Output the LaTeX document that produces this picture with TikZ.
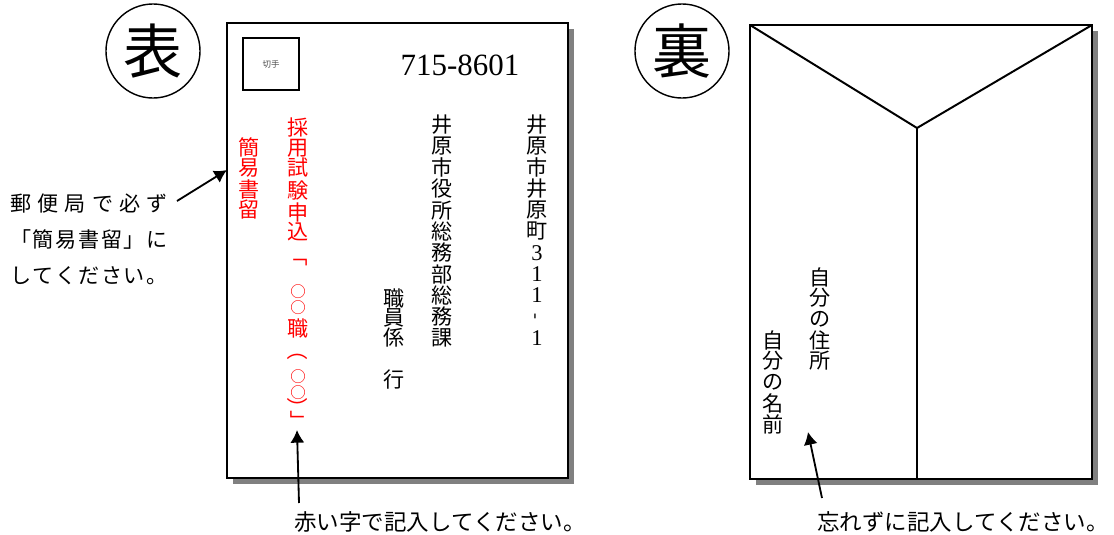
\documentclass[tikz,border=0pt]{standalone}
\usepackage{fontspec}
\setmainfont{Liberation Serif}
\newfontfamily\jp{Noto Sans CJK JP}
\usetikzlibrary{arrows.meta, calc}

\begin{document}
\begin{tikzpicture}[x=0.025cm, y=-0.025cm,
    tate/.style={font=\jp\fontsize{15pt}{15pt}\selectfont, inner sep=0pt, anchor=center},
    maru/.style={tate, font=\jp\fontsize{11pt}{11pt}\selectfont},
    envelope/.style={draw=black, line width=1.8pt, fill=white},
    shadowbox/.style={fill=black!50, draw=none},
    pointer/.style={line width=1.3pt, -{Latex[length=9pt, width=10pt]}},
    badge/.style={circle, draw, line width=1pt, minimum size=2.35cm, inner sep=0pt,
        font=\jp\fontsize{42pt}{42pt}\selectfont}]
    \useasboundingbox (0,0) rectangle (1114,534);

    % front side
    \coordinate (FrontNW) at (227,23);
    \coordinate (FrontSE) at (568,478);
    \fill[shadowbox] ($(FrontNW)+(6,6)$) rectangle ($(FrontSE)+(6,6)$);
    \draw[envelope] (FrontNW) rectangle (FrontSE);
    \node[badge] (omote) at (153,51) {表};
    \node[draw, line width=1.4pt, minimum width=1.4cm, minimum height=1.3cm,
        font=\jp\fontsize{6pt}{6pt}\selectfont, text=black!70] (stamp) at (271,64) {切手};
    \node[font=\fontsize{22pt}{22pt}\selectfont] (zip) at (460,65) {715-8601};

    % address columns
    \foreach \c [count=\i from 0] in {井,原,市,井,原,町,{\rmfamily\fontsize{16pt}{16pt}\selectfont 3},{\rmfamily\fontsize{16pt}{16pt}\selectfont 1},{\rmfamily\fontsize{16pt}{16pt}\selectfont 1},{\rotatebox{90}{\rmfamily\fontsize{13pt}{13pt}\selectfont -}},{\rmfamily\fontsize{16pt}{16pt}\selectfont 1}}
        \node[tate] (addr\i) at (537,125+21.3*\i) {\c};
    \foreach \c [count=\i from 0] in {井,原,市,役,所,総,務,部,総,務,課}
        \node[tate] (dept\i) at (442,125+21.3*\i) {\c};
    \foreach \c/\y [count=\i] in {職/298,員/318,係/338,行/380}
        \node[tate] (sect\i) at (394,\y) {\c};

    % red columns
    \foreach \c/\y [count=\i] in {採/128,用/148,試/168,験/190,申/212,込/232,職/328}
        \node[tate, text=red] (red\i) at (298,\y) {\c};
    \foreach \y [count=\i] in {292,308,377,393}
        \node[maru, text=red] (maru\i) at (298,\y) {○};
    \node[tate, text=red] (kagi1) at (298,256) {\rotatebox{-90}{「}};
    \node[tate, text=red] (kakko1) at (298,350) {\rotatebox{-90}{（}};
    \node[tate, text=red] (kakko2) at (298,408) {\rotatebox{-90}{）}};
    \node[tate, text=red] (kagi2) at (298,421) {\rotatebox{-90}{」}};
    \foreach \c/\y [count=\i] in {簡/147,易/168,書/189,留/210}
        \node[tate, text=red] (kan\i) at (249,\y) {\c};

    % notes
    \node[font=\jp\fontsize{15pt}{25.6pt}\selectfont, align=left, inner sep=0pt] (note) at (89,239)
        {\makebox[112pt][s]{郵\hfill 便\hfill 局\hfill で\hfill 必\hfill ず}\\
         \makebox[112pt][s]{「\hfill 簡\hfill 易\hfill 書\hfill 留\hfill 」\hfill に}\\
         \makebox[112pt][s]{し\hfill て\hfill く\hfill だ\hfill さ\hfill い\hfill 。}};
    \coordinate (NoteTail) at (177,201);
    \coordinate (NoteTip) at (227,170);
    \draw[pointer] (NoteTail) -- (NoteTip);

    \node[font=\jp\fontsize{16pt}{16pt}\selectfont, inner sep=0pt] (redNote) at (440,522) {赤い字で記入してください。};
    \coordinate (RedTail) at (299,503);
    \coordinate (RedTip) at (297,430);
    \draw[pointer] (RedTail) -- (RedTip);

    % back side
    \coordinate (BackNW) at (750,25);
    \coordinate (BackSE) at (1092,479);
    \coordinate (Flap) at (917,128);
    \fill[shadowbox] ($(BackNW)+(6,6)$) rectangle ($(BackSE)+(6,6)$);
    \draw[envelope] (BackNW) rectangle (BackSE);
    \draw[line width=1.4pt] (BackNW) -- (Flap) -- (BackSE |- BackNW);
    \draw[line width=1.4pt] (Flap) -- (Flap |- BackSE);
    \node[badge] (ura) at (682,51) {裏};

    \foreach \c [count=\i from 0] in {自,分,の,住,所}
        \node[tate] (own\i) at (820,277+21*\i) {\c};
    \foreach \c [count=\i from 0] in {自,分,の,名,前}
        \node[tate] (name\i) at (773,340+21*\i) {\c};

    \node[font=\jp\fontsize{16pt}{16pt}\selectfont, inner sep=0pt] (backNote) at (963,522) {忘れずに記入してください。};
    \coordinate (BackTail) at (822,498);
    \coordinate (BackTip) at (808,432);
    \draw[pointer] (BackTail) -- (BackTip);
\end{tikzpicture}
\end{document}
